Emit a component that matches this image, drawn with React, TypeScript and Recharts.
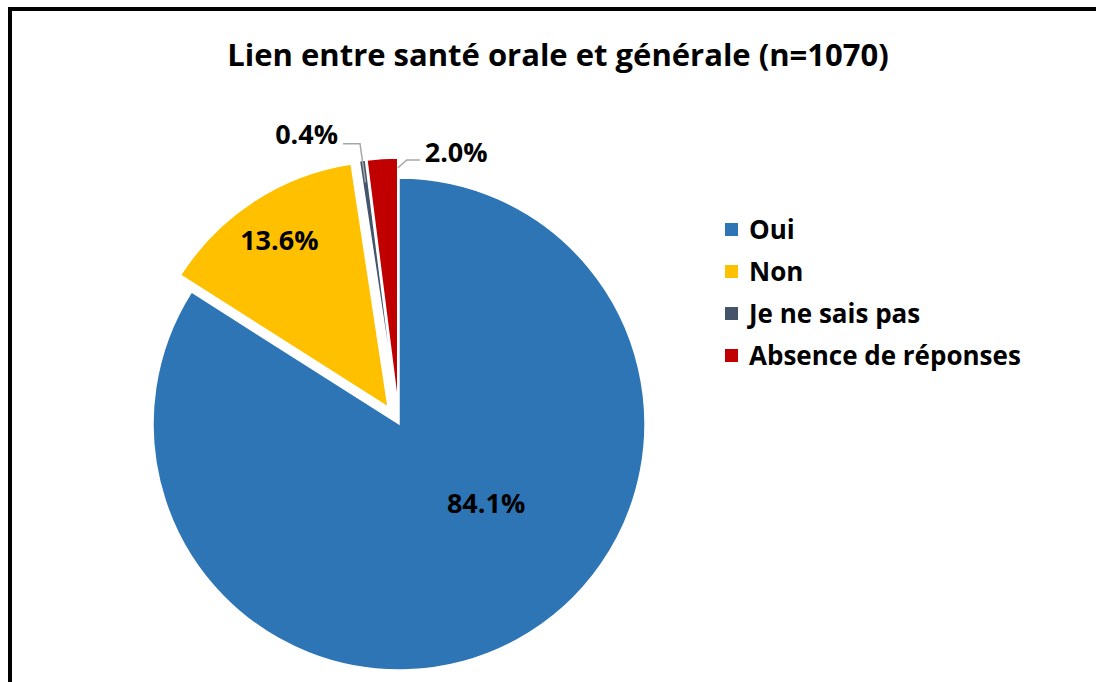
import React from 'react';
import { PieChart, Pie, Cell, Legend } from 'recharts';

const categories = ['Oui', 'Non', 'Je ne sais pas', 'Absence de réponses'];
const values = [84.1, 13.6, 0.4, 2.0];
const valueLabels = ['84.1%', '13.6%', '0.4%', '2.0%'];
const colors = ['#2E75B6', '#FFC000', '#44546A', '#C00000'];
const explode = [0, 20, 20, 20];

const W = 1096;
const H = 682;
const CX = 399;
const CY = 424;
const R = 246;
const RADIAN = Math.PI / 180;
const FONT = '"Open Sans", sans-serif';

const data = categories.map((name, i) => ({ name, value: values[i] }));
const total = values.reduce((a, b) => a + b, 0);

// clockwise angle (from 12 o'clock) of the middle of a slice
function midClock(i: number) {
  const before = values.slice(0, i).reduce((a, b) => a + b, 0);
  return ((before + values[i] / 2) / total) * 360;
}

const labelStyle = { fontFamily: FONT, fontWeight: 700, fontSize: 27, fill: '#000' };

const renderLabel = (slice: number) => (props: any) => {
  if (props.index !== slice) return null;
  const { cx, cy, midAngle, outerRadius, endAngle } = props;
  const pt = (ang: number, r: number) => ({
    x: cx + r * Math.cos(-ang * RADIAN),
    y: cy + r * Math.sin(-ang * RADIAN),
  });
  const txt = valueLabels[slice];

  if (slice === 0 || slice === 1) {
    const p = slice === 0 ? pt(midAngle + 19, outerRadius * 0.478) : pt(midAngle, outerRadius * 0.81);
    return (
      <text x={p.x} y={p.y + 9.5} textAnchor="middle" style={labelStyle}>
        {txt}
      </text>
    );
  }
  if (slice === 2) {
    const start = pt(midAngle, outerRadius - 22);
    const elbow = pt(midAngle, outerRadius + 17);
    const endX = elbow.x - 17;
    return (
      <g>
        <polyline
          points={`${start.x},${start.y} ${elbow.x},${elbow.y} ${endX},${elbow.y}`}
          fill="none"
          stroke="#A6A6A6"
          strokeWidth={1.5}
        />
        <text x={endX - 5} y={elbow.y} textAnchor="end" style={labelStyle}>
          {txt}
        </text>
      </g>
    );
  }
  const start = pt(endAngle, outerRadius - 10);
  const elbow = { x: start.x + 9, y: start.y - 8 };
  const endX = elbow.x + 13;
  return (
    <g>
      <polyline
        points={`${start.x},${start.y} ${elbow.x},${elbow.y} ${endX},${elbow.y}`}
        fill="none"
        stroke="#A6A6A6"
        strokeWidth={1.5}
      />
      <text x={endX + 5} y={elbow.y + 2} textAnchor="start" style={labelStyle}>
        {txt}
      </text>
    </g>
  );
};

const LegendBox = () => (
  <div style={{ fontFamily: FONT, fontWeight: 700, fontSize: 26, color: '#000' }}>
    {categories.map((c, i) => (
      <div key={c} style={{ display: 'flex', alignItems: 'center', height: 42 }}>
        <span style={{ width: 13, height: 13, background: colors[i], marginRight: 11, display: 'inline-block' }} />
        <span>{c}</span>
      </div>
    ))}
  </div>
);

export default function App() {
  return (
    <div style={{ position: 'fixed', left: 0, top: 0, width: W, height: H, overflow: 'hidden', background: '#fff' }}>
      <div
        style={{
          position: 'absolute',
          left: 8,
          top: 7,
          width: 1200,
          height: 800,
          border: '4px solid #000',
        }}
      />
      <div
        style={{
          position: 'absolute',
          left: 558,
          top: 39,
          transform: 'translateX(-50%)',
          whiteSpace: 'nowrap',
          fontFamily: FONT,
          fontWeight: 700,
          fontSize: 31,
          lineHeight: 1,
          color: '#000',
        }}
      >
        Lien entre santé orale et générale (n=1070)
      </div>
      <div style={{ position: 'absolute', left: 0, top: 0 }}>
        <PieChart width={W} height={H} margin={{ top: 0, right: 0, bottom: 0, left: 0 }}>
          {values.map((_, s) => {
            const a = midClock(s) * RADIAN;
            const dx = explode[s] * Math.sin(a);
            const dy = -explode[s] * Math.cos(a);
            return (
              <Pie
                key={s}
                data={data}
                dataKey="value"
                nameKey="name"
                cx={CX + dx}
                cy={CY + dy}
                outerRadius={R}
                innerRadius={0}
                startAngle={90}
                endAngle={-270}
                isAnimationActive={false}
                labelLine={false}
                label={renderLabel(s)}
                legendType="none"
              >
                {data.map((d, i) => (
                  <Cell
                    key={d.name}
                    fill={i === s ? colors[i] : 'transparent'}
                    stroke={i === s ? '#fff' : 'none'}
                    strokeWidth={i === s ? 1.5 : 0}
                  />
                ))}
              </Pie>
            );
          })}
          <Legend
            layout="vertical"
            content={<LegendBox />}
            wrapperStyle={{ position: 'absolute', left: 725, top: 208, width: 360 }}
          />
        </PieChart>
      </div>
    </div>
  );
}
